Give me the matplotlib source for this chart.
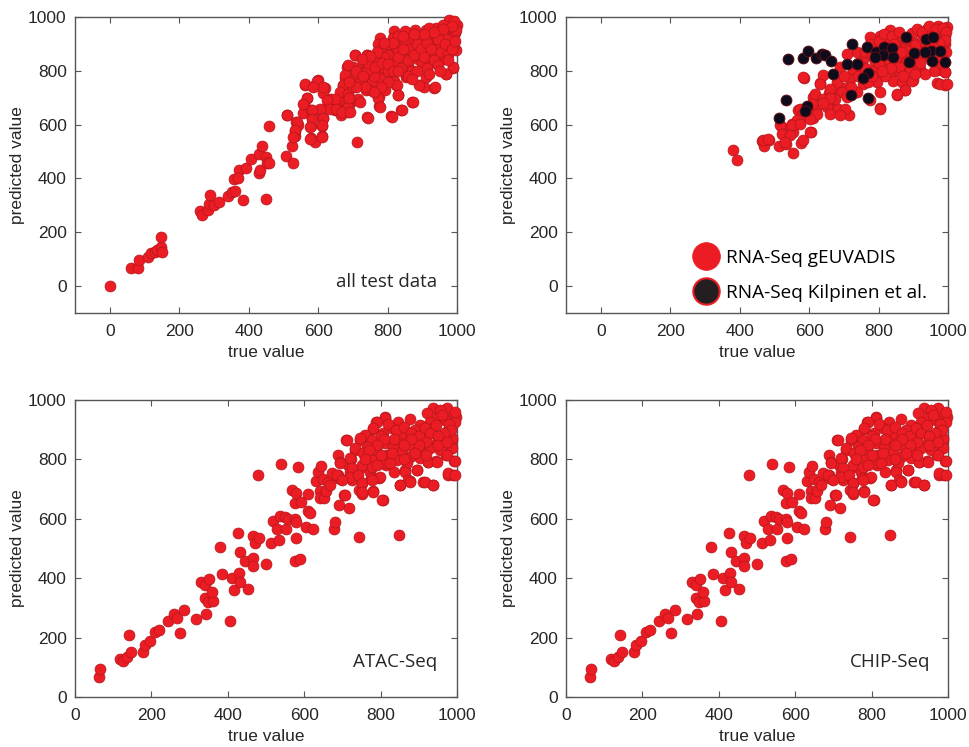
import matplotlib
matplotlib.use("Agg")
import matplotlib.pyplot as plt
from matplotlib.lines import Line2D

# ---------------- data (true value, predicted value) ----------------
all_test_pts = [
    (2, 2), (62, 68), (81, 68), (83, 96), (110, 109), (120, 123), (129, 127), (136, 133), (148, 146), (148, 183),
    (150, 127), (261, 280), (266, 265), (282, 284), (285, 306), (290, 340), (299, 302), (315, 312), (342, 333),
    (351, 348), (361, 354), (358, 399), (371, 432), (370, 401), (384, 321), (393, 438), (406, 472), (430, 491),
    (430, 420), (438, 522), (433, 432), (449, 481), (452, 457), (460, 457), (449, 325), (460, 595), (508, 484),
    (510, 636), (524, 519), (529, 457), (534, 556), (537, 611), (534, 577), (541, 599), (556, 644), (562, 747),
    (567, 698), (558, 677), (579, 595), (581, 654), (579, 549), (591, 537), (583, 623), (600, 765), (588, 743),
    (605, 654), (610, 595), (613, 626), (610, 556), (620, 738), (615, 716), (629, 685), (636, 695), (648, 654),
    (654, 667), (663, 660), (672, 691), (665, 636), (672, 722), (672, 743), (678, 772), (687, 648), (693, 679),
    (700, 691), (682, 815), (706, 858), (700, 815), (713, 537), (710, 790), (718, 765), (727, 753), (739, 728),
    (741, 858), (741, 627), (741, 778), (750, 809), (769, 728), (776, 669), (776, 704), (776, 759), (784, 802),
    (811, 632), (825, 747), (829, 711), (840, 654), (853, 778), (869, 685), (896, 747), (905, 741), (934, 738),
    (969, 790), (988, 809), (998, 879),
    (978, 990), (999, 971), (940, 959), (911, 953), (969, 953), (849, 947), (820, 947), (882, 928), (777, 922),
    (815, 922), (926, 922), (988, 928), (859, 916), (955, 910), (773, 898), (806, 892), (835, 898), (903, 892),
    (988, 892), (783, 880), (874, 880), (940, 880), (969, 874), (706, 857), (742, 859), (815, 862), (849, 857),
    (911, 862), (777, 845), (889, 845), (960, 845), (730, 832), (759, 832), (826, 832), (860, 820), (927, 832),
    (988, 813), (687, 820), (788, 813), (720, 795), (749, 801), (807, 789), (855, 783), (912, 777), (969, 789),
    (677, 783), (706, 777), (777, 771), (820, 764), (892, 746), (937, 740), (673, 746), (697, 752), (726, 758),
    (755, 758), (749, 727), (793, 727), (826, 746), (831, 709), (562, 752), (596, 764), (615, 740), (586, 740),
    (663, 721), (687, 715), (716, 696), (649, 696), (625, 690), (567, 699), (557, 677), (682, 677), (720, 684),
    (773, 699), (778, 665), (634, 659), (653, 659), (606, 659), (582, 653), (687, 665), (668, 647), (692, 647),
    (582, 622), (510, 634), (538, 609), (615, 624), (745, 624), (812, 628), (841, 653), (872, 684), (577, 591),
    (610, 597), (534, 579), (577, 547), (610, 553), (529, 553),
    (850, 900), (870, 860), (900, 830), (930, 900), (960, 930), (990, 950), (800, 860), (830, 870), (760, 780),
    (790, 850), (860, 880), (920, 940), (950, 890), (980, 900), (995, 940), (890, 910), (840, 810), (870, 800),
    (900, 870), (940, 860), (970, 920), (760, 840), (800, 800), (740, 800), (720, 760), (700, 740), (690, 700),
    (800, 900), (830, 930), (880, 950), (920, 960), (960, 970), (990, 985),
    (710, 800), (730, 780), (745, 830), (765, 815), (785, 830), (800, 825), (815, 800), (830, 850), (845, 880),
    (860, 840), (875, 860), (885, 900), (895, 880), (905, 850), (915, 905), (925, 880), (935, 840), (945, 920),
    (955, 870), (965, 900), (975, 860), (985, 880), (995, 910), (998, 950), (985, 965), (960, 955), (935, 945),
    (905, 935), (875, 935), (845, 930), (815, 905), (790, 905), (770, 870), (750, 855), (725, 845), (830, 800),
    (860, 780), (885, 800), (915, 810), (945, 820), (975, 840), (950, 800), (920, 790), (870, 770), (800, 760),
    (780, 740), (760, 720), (735, 740), (710, 740), (690, 760),
]

geuvadis_pts = [
    (380, 506), (391, 467), (464, 541), (471, 519), (484, 543), (514, 519), (521, 593), (526, 568), (534, 528),
    (555, 496), (550, 602), (553, 574), (574, 605), (576, 531), (584, 775), (606, 574), (612, 623), (619, 660),
    (569, 654), (598, 648), (612, 704), (632, 753), (660, 667), (689, 642), (716, 636), (670, 722), (656, 716),
    (698, 735), (736, 722), (775, 691), (804, 660), (852, 710), (876, 728), (900, 765), (967, 753), (990, 747),
    (990, 796), (971, 802),
    (972, 968), (939, 956), (998, 962), (919, 943), (833, 950), (805, 931), (776, 925), (852, 918), (900, 906),
    (986, 925), (967, 900), (823, 906), (867, 894), (919, 888), (737, 869), (708, 863), (790, 832), (823, 820),
    (862, 832), (910, 845), (972, 820), (991, 795), (977, 752), (996, 752), (689, 814), (727, 801), (756, 814),
    (795, 789), (843, 795), (881, 789), (919, 807), (641, 783), (680, 758), (718, 770), (756, 752), (795, 758),
    (843, 764), (867, 758), (895, 764), (631, 752), (660, 733), (694, 721), (737, 721), (804, 721), (876, 727),
    (852, 715), (617, 715), (641, 696), (675, 696), (708, 702), (608, 678), (651, 665), (684, 659), (703, 659),
    (804, 659), (574, 659), (623, 641), (660, 641), (689, 635), (583, 641), (564, 616), (550, 598), (603, 622),
    (574, 604), (516, 598), (521, 567), (545, 561), (603, 573), (531, 536), (583, 542), (468, 542), (483, 548),
    (583, 777), (876, 857),
    (850, 880), (880, 900), (900, 880), (930, 930), (950, 950), (980, 940), (960, 890), (940, 860), (910, 820),
    (880, 830), (850, 850), (820, 870), (790, 880), (760, 850), (780, 800), (820, 780), (860, 800), (900, 840),
    (940, 900), (990, 900), (995, 870), (990, 930), (770, 760), (740, 780), (700, 780), (720, 740), (660, 700),
    (640, 680),
    (760, 870), (775, 900), (800, 910), (815, 935), (840, 930), (860, 945), (880, 920), (895, 940), (910, 955),
    (925, 945), (945, 965), (965, 955), (985, 960), (995, 945), (990, 915), (975, 905), (955, 915), (925, 910),
    (905, 895), (885, 875), (865, 870), (845, 900), (825, 885), (800, 875), (780, 860), (800, 830), (830, 840),
    (860, 815), (890, 800), (920, 830), (950, 840), (980, 850), (960, 800), (935, 790), (905, 790), (870, 780),
    (835, 810), (810, 800), (780, 780), (760, 810), (740, 830),
]

kilpinen_pts = [
    (540, 844), (582, 847), (596, 872), (619, 848), (638, 863), (646, 857), (663, 838), (723, 898), (708, 824),
    (737, 826), (766, 888), (793, 869), (817, 890), (812, 857), (838, 884), (843, 851), (790, 851), (769, 793),
    (754, 773), (879, 927), (888, 832), (902, 867), (936, 918), (958, 925), (950, 873), (934, 869), (977, 873),
    (954, 838), (991, 832), (670, 787), (720, 711), (770, 699), (533, 693), (595, 668), (588, 650), (513, 625),
]

atac_pts = [
    (64, 67), (65, 95), (118, 127), (126, 120), (135, 135), (146, 152), (142, 208), (179, 152), (183, 174),
    (196, 189), (209, 219), (221, 225), (244, 255), (259, 281), (266, 266), (275, 217), (285, 294), (316, 262),
    (331, 388), (340, 376), (351, 397), (340, 334), (349, 320), (362, 322), (359, 352), (344, 278), (379, 506),
    (385, 413), (412, 402), (416, 360), (429, 419), (433, 388), (426, 551), (431, 489), (445, 458), (453, 365),
    (405, 256), (466, 542), (471, 517), (465, 468), (465, 442), (482, 534), (480, 747), (499, 447), (514, 519),
    (519, 593), (528, 567), (535, 529), (537, 609), (538, 783), (551, 607), (552, 565), (558, 599), (569, 697),
    (575, 652), (578, 686), (575, 601), (578, 590), (578, 534), (576, 457), (589, 463), (585, 776), (592, 657),
    (606, 572), (611, 682), (611, 627), (616, 621), (623, 567), (630, 728), (636, 756), (643, 779), (641, 693),
    (641, 671), (650, 734), (652, 670), (658, 693), (663, 725), (667, 713), (678, 564), (680, 590), (689, 815),
    (689, 749), (689, 736), (691, 646), (693, 790), (697, 733), (704, 680), (710, 865), (718, 635), (715, 781),
    (719, 758), (724, 730), (722, 803), (732, 831), (738, 749), (744, 697), (744, 539), (747, 865), (750, 719),
    (752, 685), (759, 776), (763, 879), (772, 758), (774, 736), (779, 693), (780, 904), (789, 927), (795, 736),
    (805, 662), (811, 944), (815, 781), (834, 758), (849, 544), (850, 713), (863, 763), (876, 727), (894, 763),
    (911, 725), (924, 792), (937, 713), (946, 794), (970, 815), (975, 972), (977, 749), (990, 749), (991, 794),
    (985, 837), (988, 865), (998, 944),
    (938, 972), (955, 966), (921, 955), (986, 944), (947, 938), (969, 933), (929, 927), (995, 927), (877, 936),
    (812, 940), (790, 927), (846, 927), (903, 916), (781, 905), (829, 905), (890, 899), (938, 905), (977, 899),
    (759, 882), (807, 888), (859, 882), (921, 882), (964, 876), (711, 865), (746, 871), (777, 865), (842, 860),
    (890, 860), (947, 860), (986, 871), (812, 854), (868, 854), (912, 854), (764, 843), (733, 838), (833, 838),
    (886, 838), (929, 838), (986, 838), (790, 826), (855, 826), (903, 826), (955, 832), (755, 821), (816, 815),
    (877, 809), (973, 815), (720, 804), (781, 798), (842, 798), (903, 804), (694, 787), (750, 781), (807, 787),
    (868, 787), (925, 792), (947, 792), (995, 795), (724, 770), (777, 776), (825, 787), (672, 753), (685, 747),
    (720, 742), (742, 747), (798, 742), (864, 758), (894, 764), (977, 753), (995, 747), (698, 731), (750, 719),
    (777, 731), (873, 731), (851, 714), (877, 725), (916, 725), (938, 714), (707, 680), (781, 691), (803, 663),
    (750, 691),
    (800, 880), (820, 920), (840, 900), (860, 910), (880, 890), (900, 880), (915, 905), (930, 890), (945, 915),
    (960, 950), (980, 920), (995, 960), (985, 900), (965, 890), (950, 880), (920, 860), (900, 850), (880, 870),
    (860, 850), (835, 870), (810, 870), (790, 850), (770, 830), (800, 815), (830, 820), (860, 800), (890, 820),
    (920, 815), (950, 850), (975, 860), (760, 800), (790, 780),
]

chip_pts = list(atac_pts)  # the CHIP-Seq panel shows the same point cloud

ticks = [0, 200, 400, 600, 800, 1000]

# ---------------- style ----------------
RED = "#EC1C24"
RED_EDGE = "#B3161B"
BLACK = "#0C0C1C"
AX_COLOR = "#262626"
SPINE_COLOR = "#555555"
TICK_FONT = "Liberation Sans"
LABEL_FONT = "Open Sans"
S = 62

fig = plt.figure(figsize=(9.69, 7.47), dpi=100)
W, H = 969.0, 747.0


def make_ax(l, t, r, b):
    return fig.add_axes([l / W, 1 - b / H, (r - l) / W, (b - t) / H])


ax1 = make_ax(75, 17, 457, 313)
ax2 = make_ax(566, 17, 948, 313)
ax3 = make_ax(75, 400, 457, 697)
ax4 = make_ax(566, 400, 948, 697)


def style(ax, xlim, ylim):
    ax.set_xlim(*xlim)
    ax.set_ylim(*ylim)
    ax.set_xticks(ticks)
    ax.set_yticks(ticks)
    ax.tick_params(direction="in", top=True, right=True, length=4, width=0.8,
                   color=SPINE_COLOR, labelcolor=AX_COLOR, labelsize=12.5)
    ax.tick_params(axis="x", pad=8)
    ax.tick_params(axis="y", pad=6)
    for lab in ax.get_xticklabels() + ax.get_yticklabels():
        lab.set_fontfamily(TICK_FONT)
    for sp in ax.spines.values():
        sp.set_color(SPINE_COLOR)
        sp.set_linewidth(1.0)
    ax.set_xlabel("true value", fontsize=12.5, family=TICK_FONT, color=AX_COLOR, labelpad=4)
    ax.set_ylabel("predicted value", fontsize=12.5, family=TICK_FONT, color=AX_COLOR, labelpad=2)


def scatter(ax, pts, face, edge, lw=0.5):
    xs = [p[0] for p in pts]
    ys = [p[1] for p in pts]
    ax.scatter(xs, ys, s=S, c=face, edgecolors=edge, linewidths=lw, zorder=3, clip_on=False)


scatter(ax1, all_test_pts, RED, RED_EDGE)
style(ax1, (-100, 1000), (-100, 1000))
ax1.text(0.948, 0.105, "all test data", transform=ax1.transAxes, ha="right", va="center",
         fontsize=13.5, family=LABEL_FONT, color=AX_COLOR)

scatter(ax2, geuvadis_pts, RED, RED_EDGE)
scatter(ax2, kilpinen_pts, BLACK, "#6A0E12", lw=0.6)
style(ax2, (-100, 1000), (-100, 1000))
handles = [
    Line2D([], [], ls="none", marker="o", markersize=20, markerfacecolor=RED, markeredgecolor=RED,
           markeredgewidth=0.5),
    Line2D([], [], ls="none", marker="o", markersize=19, markerfacecolor="#231F20", markeredgecolor=RED,
           markeredgewidth=1.5),
]
ax2.legend(handles, ["RNA-Seq gEUVADIS", "RNA-Seq Kilpinen et al."], loc="lower right",
           bbox_to_anchor=(1.0, -0.034), frameon=False, handlelength=1.0, handletextpad=0.57,
           labelspacing=0.92, borderaxespad=0.7,
           prop={"family": LABEL_FONT, "size": 13.7})

scatter(ax3, atac_pts, RED, RED_EDGE)
style(ax3, (0, 1000), (0, 1000))
ax3.text(0.949, 0.119, "ATAC-Seq", transform=ax3.transAxes, ha="right", va="center",
         fontsize=13.5, family=LABEL_FONT, color=AX_COLOR)

scatter(ax4, chip_pts, RED, RED_EDGE)
style(ax4, (0, 1000), (0, 1000))
ax4.text(0.953, 0.117, "CHIP-Seq", transform=ax4.transAxes, ha="right", va="center",
         fontsize=13.5, family=LABEL_FONT, color=AX_COLOR)

fig.savefig("out.png", dpi=100)
